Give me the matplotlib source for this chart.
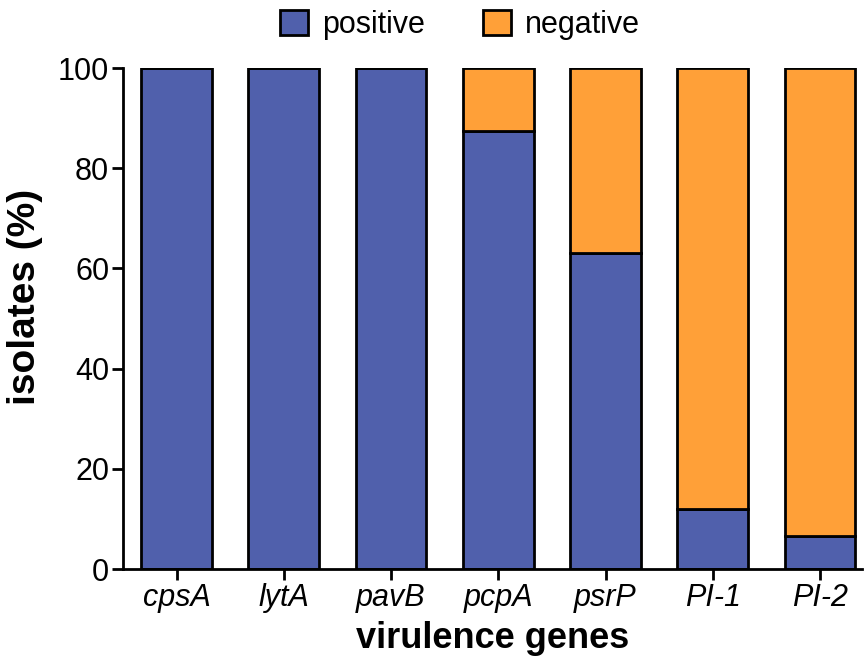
import matplotlib
matplotlib.use('Agg')
import matplotlib.pyplot as plt
import numpy as np

# donnees
genes = ['cpsA', 'lytA', 'pavB', 'pcpA', 'psrP', 'PI-1', 'PI-2']
positive = [100, 100, 100, 87.5, 63, 12, 6.7]
negative = [100 - p for p in positive]

plt.rcParams['font.family'] = ['Liberation Sans', 'DejaVu Sans']

fig = plt.figure(figsize=(8.64, 6.61), dpi=100)
ax = fig.add_axes([0.1424, 0.139, 0.855, 0.758])

x = np.arange(len(genes))
ax.bar(x, positive, width=0.66, color='#5060ac', edgecolor='black', linewidth=2, label='positive')
ax.bar(x, negative, width=0.66, bottom=positive, color='#ffa038', edgecolor='black', linewidth=2, label='negative')

ax.set_xlim(-0.5, 6.39)
ax.set_ylim(0, 100)
ax.set_yticks([0, 20, 40, 60, 80, 100])
ax.set_xticks(x)
ax.set_xticklabels(genes, fontstyle='italic')
ax.tick_params(labelsize=22, width=2, length=8, direction='out', pad=2)

for s in ['top', 'right']:
    ax.spines[s].set_visible(False)
for s in ['left', 'bottom']:
    ax.spines[s].set_linewidth(2)

ax.set_ylabel('isolates (%)', fontsize=28, fontweight='bold')
ax.yaxis.set_label_coords(-0.108, 0.543)
ax.set_xlabel('virulence genes', fontsize=26, fontweight='bold', labelpad=6)

# legende en haut, centree sur la figure
fig.legend(loc='center', bbox_to_anchor=(0.532, 0.962), ncol=2, frameon=False,
           fontsize=22, handlelength=0.92, handleheight=0.85, columnspacing=1.9,
           handletextpad=0.46, borderaxespad=0.0, borderpad=0.0)

fig.savefig('out.png', dpi=100)
